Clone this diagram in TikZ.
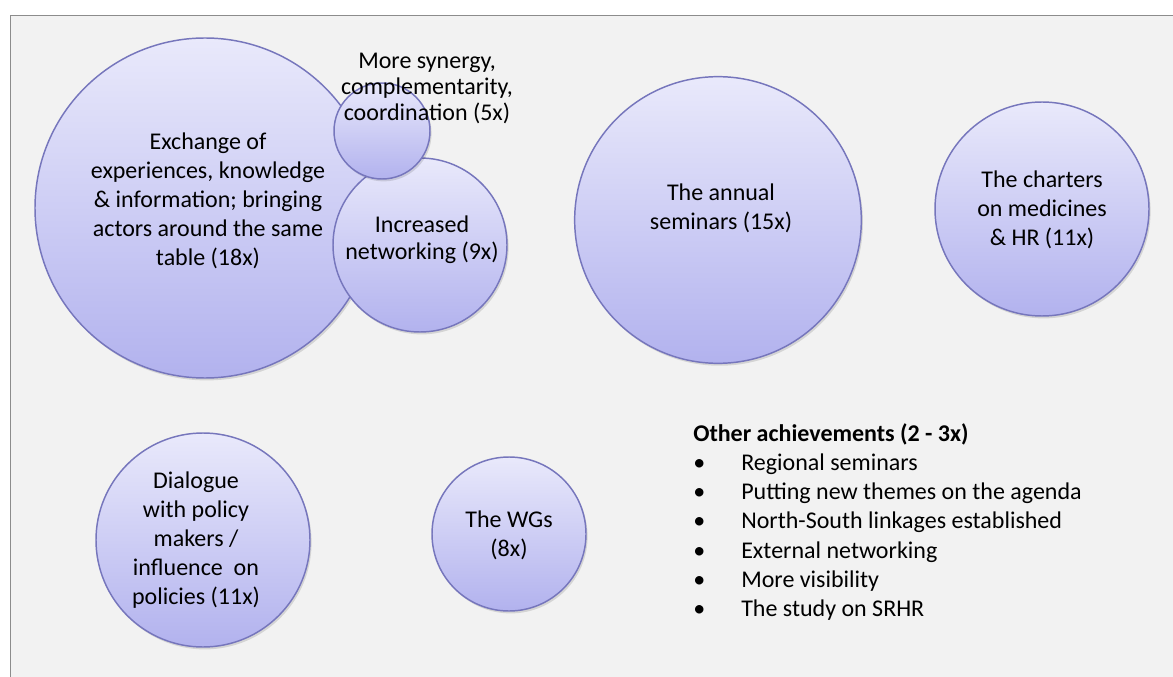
\documentclass[tikz,border=0pt]{standalone}
\usepackage{fontspec}
\setmainfont{Carlito}
\definecolor{bgc}{RGB}{242,242,242}
\definecolor{bord}{RGB}{118,118,188}
\definecolor{ctop}{RGB}{233,233,251}
\definecolor{cbot}{RGB}{178,178,238}
\definecolor{framec}{RGB}{140,140,140}
\begin{document}
\begin{tikzpicture}[x=0.75pt,y=-0.75pt,
  bub/.style={circle, draw=bord, line width=1.1pt, top color=ctop, bottom color=cbot, inner sep=0pt,
    preaction={fill=black, opacity=0.12, transform canvas={xshift=1.2pt, yshift=-1.8pt}}},
  lbl/.style={align=center, font=\fontsize{18pt}{21.75pt}\selectfont, inner sep=0pt, text=black},
  lst/.style={anchor=base west, font=\fontsize{18pt}{21.75pt}\selectfont, inner sep=0pt, text=black}]
\useasboundingbox (0,0) rectangle (1173,677);
\fill[white] (0,0) rectangle (1173,677);
\draw[framec, line width=0.8pt, fill=bgc] (10.5,15.5) rectangle (1200,720);
% circles
\node[bub, minimum size=255pt] (exch) at (205,208) {};
\node[bub, minimum size=130.5pt] (net) at (420,245) {};
\node[bub, minimum size=72pt] (syn) at (382,131) {};
\node[bub, minimum size=215pt] (ann) at (718,220) {};
\node[bub, minimum size=160.5pt] (chart) at (1042,209) {};
\node[bub, minimum size=115.5pt] (wgs) at (509,534) {};
\node[bub, minimum size=160.5pt] (dia) at (203,540) {};
% labels
\node[lbl] (exchT) at (208,201) {Exchange of\\experiences, knowledge\\\& information; bringing\\actors around the same\\table (18x)};
\node[lbl, font=\fontsize{18pt}{19.5pt}\selectfont] (synT) at (427,88) {More synergy,\\complementarity,\\coordination (5x)};
\node[lbl, font=\fontsize{18pt}{20.25pt}\selectfont] (netT) at (422,240) {Increased\\networking (9x)};
\node[lbl] (annT) at (721,208) {The annual\\seminars (15x)};
\node[lbl] (chartT) at (1042,210) {The charters\\on medicines\\\& HR (11x)};
\node[lbl] (wgsT) at (509,535) {The WGs\\(8x)};
\node[lbl] (diaT) at (196,540) {Dialogue\\with policy\\makers /\\influence\ \ on\\policies (11x)};
% other achievements
\node[lst] (oth0) at (693,441) {\textbf{Other achievements (2 - 3x)}};
\node[lst] (oth1) at (693,470) {\makebox[36pt][l]{\textbullet}Regional seminars};
\node[lst] (oth2) at (693,499.5) {\makebox[36pt][l]{\textbullet}Putting new themes on the agenda};
\node[lst] (oth3) at (693,528.5) {\makebox[36pt][l]{\textbullet}North-South linkages established};
\node[lst] (oth4) at (693,558) {\makebox[36pt][l]{\textbullet}External networking};
\node[lst] (oth5) at (693,587) {\makebox[36pt][l]{\textbullet}More visibility};
\node[lst] (oth6) at (693,616) {\makebox[36pt][l]{\textbullet}The study on SRHR};
\end{tikzpicture}
\end{document}
